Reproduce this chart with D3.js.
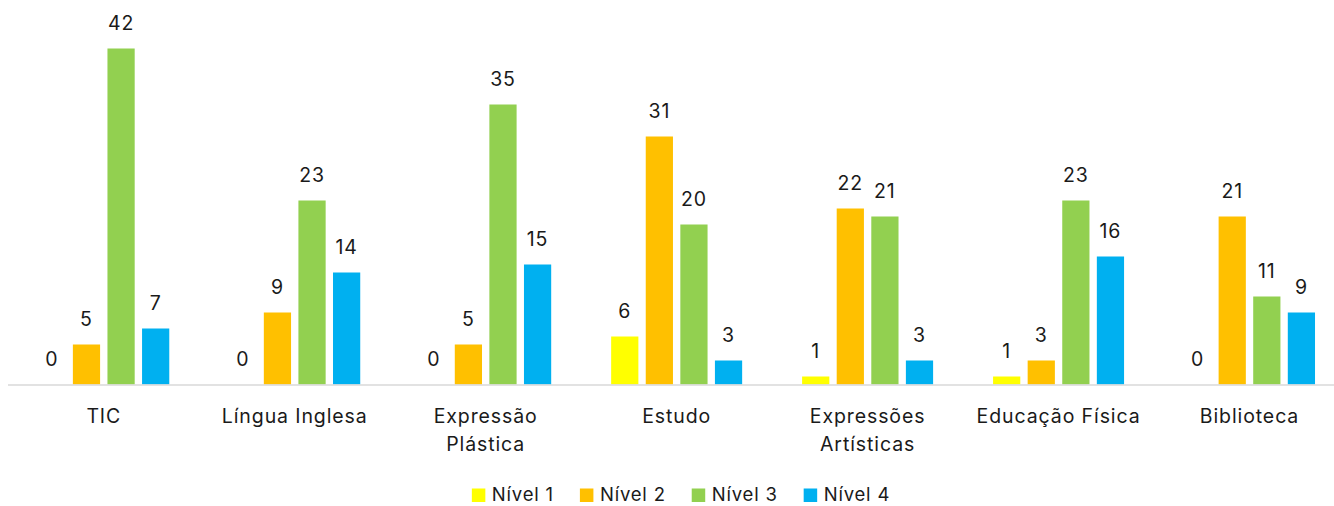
<!DOCTYPE html>
<html>
<head>
<meta charset="utf-8">
<script src="https://cdn.jsdelivr.net/npm/d3@7"></script>
<style>
  html, body { margin: 0; padding: 0; background: #fff; }
  svg { display: block; }
  text { font-family: Inter, "Open Sans", sans-serif; fill: #1a1a1a; }
</style>
</head>
<body>
<svg id="chart" width="1334" height="506"></svg>
<script>
const categories = ["TIC", "Língua Inglesa", "Expressão Plástica", "Estudo", "Expressões Artísticas", "Educação Física", "Biblioteca"];
const categoryLines = [["TIC"], ["Língua Inglesa"], ["Expressão", "Plástica"], ["Estudo"], ["Expressões", "Artísticas"], ["Educação Física"], ["Biblioteca"]];
const seriesNames = ["Nível 1", "Nível 2", "Nível 3", "Nível 4"];
const nivel1 = [0, 0, 0, 6, 1, 1, 0];
const nivel2 = [5, 9, 5, 31, 22, 3, 21];
const nivel3 = [42, 23, 35, 20, 21, 23, 11];
const nivel4 = [7, 14, 15, 3, 3, 16, 9];
const seriesColors = ["#FFFF00", "#FFC000", "#92D050", "#00B0F0"];

const seriesValues = [nivel1, nivel2, nivel3, nivel4];
const W = 1334, H = 506;
const svg = d3.select("#chart");

const x0 = d3.scaleBand().domain(categories).range([8.3, 1345]).paddingInner(0).paddingOuter(0);
const bw = x0.bandwidth();
const x1 = d3.scaleBand().domain(seriesNames).range([bw * 0.157, bw * 0.843]).paddingInner(0.213).paddingOuter(0);
const y = d3.scaleLinear().domain([0, 45]).range([384.5, 24.5]);

const data = categories.map((c, i) => ({
  cat: c,
  vals: seriesNames.map((s, j) => ({ s, j, v: seriesValues[j][i] }))
}));

const groups = svg.selectAll("g.cat").data(data).join("g")
  .attr("class", "cat")
  .attr("transform", d => `translate(${x0(d.cat)},0)`);

groups.selectAll("rect").data(d => d.vals).join("rect")
  .attr("x", d => x1(d.s))
  .attr("y", d => y(d.v))
  .attr("width", x1.bandwidth())
  .attr("height", d => y(0) - y(d.v))
  .attr("fill", d => seriesColors[d.j]);

groups.selectAll("text.val").data(d => d.vals).join("text")
  .attr("class", "val")
  .attr("x", d => x1(d.s) + x1.bandwidth() / 2)
  .attr("y", d => y(d.v) - 19)
  .attr("text-anchor", "middle")
  .style("font-size", "19.5px")
  .style("letter-spacing", "0.9px")
  .text(d => d.v);

// axis baseline
svg.append("line")
  .attr("x1", 8).attr("x2", W)
  .attr("y1", y(0) + 0.5).attr("y2", y(0) + 0.5)
  .attr("stroke", "#d9d9d9").attr("stroke-width", 1.5);

// category labels
categories.forEach((c, i) => {
  const t = svg.append("text")
    .attr("x", x0(c) + bw / 2)
    .attr("text-anchor", "middle")
    .style("font-size", "19.5px")
    .style("letter-spacing", "0.9px");
  categoryLines[i].forEach((ln, k) => {
    t.append("tspan").attr("x", x0(c) + bw / 2).attr("y", 422.5 + k * 28).text(ln);
  });
});

// legend
const lg = svg.append("g");
let cx = 0;
seriesNames.forEach((s, j) => {
  const g = lg.append("g");
  g.append("rect").attr("x", 0).attr("y", -12.5).attr("width", 13.5).attr("height", 13.5).attr("fill", seriesColors[j]);
  const t = g.append("text").attr("x", 20).attr("y", 0).style("font-size", "18.5px").style("letter-spacing", "0.8px").text(s);
  const w = 20 + t.node().getComputedTextLength();
  g.attr("transform", `translate(${cx},0)`);
  cx += w + 26;
});
const totalW = cx - 26;
lg.attr("transform", `translate(${681 - totalW / 2},501)`);
</script>
</body>
</html>
